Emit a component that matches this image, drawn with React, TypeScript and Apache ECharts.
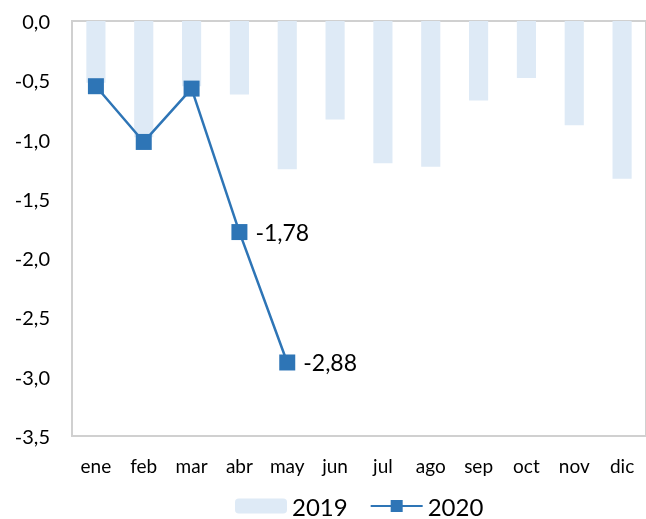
import React, { useEffect, useRef } from "react";
import * as echarts from "echarts";

const months = ["ene", "feb", "mar", "abr", "may", "jun", "jul", "ago", "sep", "oct", "nov", "dic"];
const values2019 = [-0.52, -0.98, -0.55, -0.62, -1.25, -0.83, -1.2, -1.23, -0.67, -0.48, -0.88, -1.33];
const values2020: (number | null)[] = [-0.55, -1.02, -0.57, -1.78, -2.88, null, null, null, null, null, null, null];
const labelled2020 = [3, 4];

const FONT = "Lato, 'Open Sans', sans-serif";
const fmt1 = (v: number) => v.toFixed(1).replace(".", ",");
const fmt2 = (v: number) => v.toFixed(2).replace(".", ",");

export default function App() {
  const ref = useRef<HTMLDivElement>(null);
  useEffect(() => {
    if (!ref.current) return;
    const chart = echarts.init(ref.current, undefined, { renderer: "svg" });
    chart.setOption({
      animation: false,
      textStyle: { fontFamily: FONT },
      grid: {
        left: 72,
        top: 21,
        right: -2,
        bottom: 83,
        show: true,
        borderColor: "#D0D0D0",
        borderWidth: 2,
        backgroundColor: "transparent",
      },
      legend: {
        top: 494,
        left: 235,
        padding: 0,
        itemWidth: 52,
        itemHeight: 15,
        itemGap: 22,
        itemStyle: { borderWidth: 0 },
        textStyle: { fontFamily: FONT, fontSize: 24, lineHeight: 22, color: "#000" },
        data: ["2019", "2020"],
      },
      xAxis: {
        type: "category",
        data: months,
        axisLine: { show: false },
        axisTick: { show: false },
        axisLabel: { fontFamily: FONT, fontSize: 19, color: "#000", margin: 20 },
      },
      yAxis: {
        type: "value",
        min: -3.5,
        max: 0,
        interval: 0.5,
        splitLine: { show: false },
        axisLine: { show: false },
        axisTick: { show: false },
        axisLabel: { fontFamily: FONT, fontSize: 20, color: "#000", margin: 22, formatter: (v: number) => fmt1(v) },
      },
      series: [
        {
          name: "2019",
          type: "bar",
          data: values2019,
          barWidth: "40%",
          itemStyle: { color: "#DEEAF6" },
        },
        {
          name: "2020",
          type: "line",
          data: values2020,
          symbol: "rect",
          symbolSize: 16,
          lineStyle: { color: "#2E75B6", width: 2.5 },
          itemStyle: { color: "#2E75B6" },
          label: {
            show: true,
            position: "right",
            distance: 8,
            fontFamily: FONT,
            fontSize: 23,
            color: "#000",
            formatter: (p: any) => (labelled2020.includes(p.dataIndex) ? fmt2(p.value) : ""),
          },
        },
      ],
    });
    return () => chart.dispose();
  }, []);
  return (
    <div
      ref={ref}
      style={{ position: "fixed", left: 0, top: 0, width: 646, height: 519, overflow: "hidden" }}
    />
  );
}
